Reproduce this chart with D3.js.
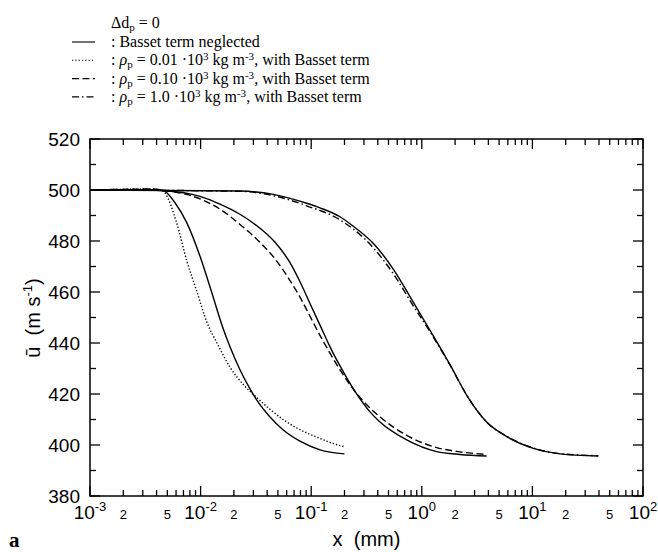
<!DOCTYPE html>
<html><head><meta charset="utf-8">
<script src="https://cdn.jsdelivr.net/npm/d3@7"></script>
<style>html,body{margin:0;padding:0;background:#fff;}</style>
</head><body>
<script>
// ---- data ----
const decades = [-3, -2, -1, 0, 1, 2];
const minorLabelMults = [2, 5];
const yTicks = [380, 400, 420, 440, 460, 480, 500, 520];
const yMinorTicks = [390, 410, 430, 450, 470, 490, 510];

// group 1 (ends at 0.2 mm)
const g1SolidX = [0.001, 0.0035, 0.00429, 0.00476, 0.00587, 0.00753, 0.00988, 0.01268, 0.01561, 0.01844, 0.0227, 0.02797, 0.03235, 0.04241, 0.05559, 0.0792, 0.1201, 0.2];
const g1SolidU = [500, 500, 500, 499.5, 495, 487, 474, 459.5, 447, 438.5, 429.5, 422, 417.5, 411, 406, 401.5, 398.1, 396.5];
const g1DotX = [0.001, 0.0023, 0.0035, 0.00429, 0.00476, 0.00599, 0.00753, 0.00928, 0.01143, 0.01407, 0.01844, 0.0252, 0.03235, 0.04241, 0.05559, 0.0792, 0.1201, 0.1479, 0.2];
const g1DotU = [500, 500.3, 500.4, 500, 498.8, 488, 472, 460, 448, 440, 430.5, 423, 418.5, 414, 410, 406, 402.6, 401, 399.3];

// group 2 (ends near 4 mm)
const g2SolidX = [0.001, 0.0035, 0.00476, 0.00988, 0.01497, 0.0227, 0.0344, 0.0471, 0.0643, 0.0792, 0.0975, 0.1201, 0.1479, 0.1822, 0.2489, 0.34, 0.419, 0.73, 1.364, 2.215, 3.86];
const g2SolidU = [500, 500, 499.7, 497.5, 494.5, 490.5, 485, 479.5, 471.5, 464, 455.5, 447, 438.5, 431, 421, 413, 409, 402, 397.4, 396.3, 395.7];
const g2DashX = [0.001, 0.0023, 0.0035, 0.00476, 0.00988, 0.01497, 0.0227, 0.0344, 0.0471, 0.0643, 0.0792, 0.0975, 0.1201, 0.1479, 0.1822, 0.2489, 0.34, 0.419, 0.73, 1.364, 2.215, 3.86];
const g2DashU = [500, 500.3, 500.4, 499.8, 496.5, 492.5, 486.5, 479.5, 473, 464.5, 458, 450.5, 443, 436, 429.5, 421, 414.5, 411, 403.8, 399, 397.3, 396.3];

// group 3 (ends near 40 mm)
const g3SolidX = [0.001, 0.0227, 0.0454, 0.091, 0.1201, 0.182, 0.24, 0.365, 0.552, 0.837, 1.186, 1.8, 2.55, 3.86, 5.86, 10.2, 17.8, 39.4];
const g3SolidU = [500, 499.6, 498.3, 494.8, 493, 489.5, 485.8, 479, 469, 456, 445, 431.5, 419.5, 409, 403.3, 398.7, 396.5, 395.7];
const g3DashDotX = [0.001, 0.0227, 0.0454, 0.091, 0.182, 0.365, 0.552, 0.837, 1.186, 1.8, 2.55, 3.86, 5.86, 10.2, 17.8, 39.4];
const g3DashDotU = [500, 499.5, 497.8, 493.8, 488.3, 477.3, 467.2, 454.6, 444.4, 431.3, 419.5, 409, 403.4, 398.8, 396.6, 395.8];

// ---- chart ----
const W = 658, H = 552;
const L = 90, R = 643, T = 139, B = 496;
const svg = d3.select("body").append("svg").attr("width", W).attr("height", H)
  .style("font-family", "'Liberation Sans', Arial, sans-serif");

const x = d3.scaleLog().domain([1e-3, 1e2]).range([L, R]);
const y = d3.scaleLinear().domain([380, 520]).range([B, T]);

// frame
svg.append("rect").attr("x", L).attr("y", T).attr("width", R - L).attr("height", B - T)
  .attr("fill", "none").attr("stroke", "#000").attr("stroke-width", 1.5);

const majorLen = 10, minorLen = 6;
const xMajor = decades.map(d => Math.pow(10, d));
const xMinor = [];
decades.slice(0, -1).forEach(d => { for (let m = 2; m <= 9; m++) xMinor.push(m * Math.pow(10, d)); });
const tg = svg.append("g").attr("stroke", "#000").attr("stroke-width", 1.3);
xMajor.forEach(v => {
  tg.append("line").attr("x1", x(v)).attr("x2", x(v)).attr("y1", B).attr("y2", B - majorLen);
  tg.append("line").attr("x1", x(v)).attr("x2", x(v)).attr("y1", T).attr("y2", T + majorLen);
});
xMinor.forEach(v => {
  tg.append("line").attr("x1", x(v)).attr("x2", x(v)).attr("y1", B).attr("y2", B - minorLen);
  tg.append("line").attr("x1", x(v)).attr("x2", x(v)).attr("y1", T).attr("y2", T + minorLen);
});
yTicks.forEach(v => {
  tg.append("line").attr("x1", L).attr("x2", L + majorLen).attr("y1", y(v)).attr("y2", y(v));
  tg.append("line").attr("x1", R).attr("x2", R - majorLen).attr("y1", y(v)).attr("y2", y(v));
});
yMinorTicks.forEach(v => {
  tg.append("line").attr("x1", L).attr("x2", L + minorLen).attr("y1", y(v)).attr("y2", y(v));
  tg.append("line").attr("x1", R).attr("x2", R - minorLen).attr("y1", y(v)).attr("y2", y(v));
});

// y tick labels
yTicks.forEach(v => {
  svg.append("text").attr("x", 80).attr("y", y(v)).attr("dy", "0.36em")
    .attr("text-anchor", "end").attr("font-size", 19).text(v);
});
// x tick labels
decades.forEach(d => {
  const t = svg.append("text").attr("x", x(Math.pow(10, d))).attr("y", 519)
    .attr("text-anchor", "middle").attr("font-size", 19);
  t.append("tspan").text("10");
  t.append("tspan").attr("dy", -8).attr("font-size", 13).text(String(d));
});
decades.slice(0, -1).forEach(d => {
  minorLabelMults.forEach(m => {
    svg.append("text").attr("x", x(m * Math.pow(10, d))).attr("y", 519)
      .attr("text-anchor", "middle").attr("font-size", 13).text(m);
  });
});

// axis titles
svg.append("text").attr("x", (L + R) / 2).attr("y", 546).attr("text-anchor", "middle")
  .attr("font-size", 20).attr("xml:space", "preserve").text("x  (mm)");
const yl = svg.append("text").attr("transform", "translate(40,318) rotate(-90)")
  .attr("text-anchor", "middle").attr("font-size", 20).attr("xml:space", "preserve");
yl.append("tspan").text("\u016b  (m s");
yl.append("tspan").attr("dy", -8).attr("font-size", 13).text("-1");
yl.append("tspan").attr("dy", 8).text(")");

svg.append("text").attr("x", 9).attr("y", 547).attr("font-family", "'Liberation Serif', 'Times New Roman', serif")
  .attr("font-weight", "bold").attr("font-size", 21).text("a");

// lines
const line = d3.line().x(d => x(d[0])).y(d => y(d[1])).curve(d3.curveMonotoneX);
const series = [
  { xs: g1SolidX, us: g1SolidU, dash: null },
  { xs: g1DotX, us: g1DotU, dash: "1.3,2" },
  { xs: g2SolidX, us: g2SolidU, dash: null },
  { xs: g2DashX, us: g2DashU, dash: "7,3.5" },
  { xs: g3SolidX, us: g3SolidU, dash: null },
  { xs: g3DashDotX, us: g3DashDotU, dash: "7,3,1.5,3" }
];
series.forEach(s => {
  svg.append("path").datum(s.xs.map((v, i) => [v, s.us[i]]))
    .attr("d", line).attr("fill", "none").attr("stroke", "#000")
    .attr("stroke-width", 1.4).attr("stroke-dasharray", s.dash);
});

// legend
const serif = "'Liberation Serif', 'Times New Roman', serif";
const lg = svg.append("g").attr("font-family", serif).attr("font-size", 16);
const t0 = lg.append("text").attr("x", 111).attr("y", 28);
t0.append("tspan").text("\u0394d");
t0.append("tspan").attr("dy", 3).attr("font-size", 11).text("p");
t0.append("tspan").attr("dy", -3).text(" = 0");

const legendRows = [
  { dash: null, dens: null },
  { dash: "1.3,2", dens: "0.01" },
  { dash: "7,3.5", dens: "0.10" },
  { dash: "7,3,1.5,3", dens: "1.0" }
];
const rowY = [47, 65.3, 83.6, 101.9];
legendRows.forEach((r, i) => {
  const yy = rowY[i];
  lg.append("line").attr("x1", 72).attr("x2", 95).attr("y1", yy - 5).attr("y2", yy - 5)
    .attr("stroke", "#000").attr("stroke-width", 1.1).attr("stroke-dasharray", r.dash);
  const t = lg.append("text").attr("x", 111).attr("y", yy).attr("xml:space", "preserve");
  if (!r.dens) { t.append("tspan").text(": Basset term neglected"); return; }
  t.append("tspan").text(": ");
  t.append("tspan").attr("font-style", "italic").text("\u03c1");
  t.append("tspan").attr("dy", 3).attr("font-size", 11).text("p");
  t.append("tspan").attr("dy", -3).text(" = " + r.dens + " \u00b710");
  t.append("tspan").attr("dy", -5).attr("font-size", 11).text("3");
  t.append("tspan").attr("dy", 5).text(" kg m");
  t.append("tspan").attr("dy", -5).attr("font-size", 11).text("-3");
  t.append("tspan").attr("dy", 5).text(", with Basset term");
});
</script>
</body></html>
